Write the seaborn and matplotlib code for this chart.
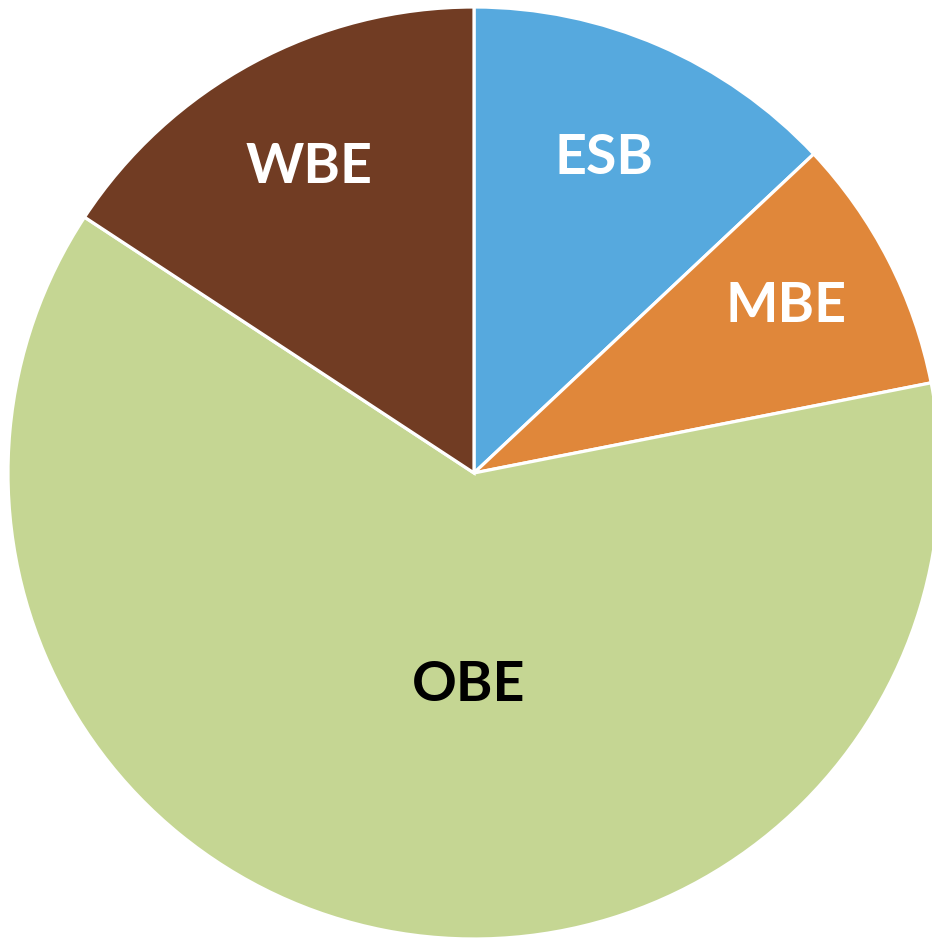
import matplotlib
matplotlib.use("Agg")
import matplotlib.pyplot as plt
import seaborn as sns
import numpy as np

categories = ["ESB", "MBE", "OBE", "WBE"]
values = [13.0, 8.9, 62.35, 15.75]
colors = ["#56A9DE", "#E0873A", "#C5D693", "#713C23"]
label_colors = ["white", "white", "black", "white"]

sns.set_theme(style="white")
plt.rcParams['font.family'] = ['Lato', 'DejaVu Sans']

W, H = 932, 942
fig = plt.figure(figsize=(W / 100, H / 100), dpi=100)
ax = fig.add_axes([0, 0, 1, 1])
ax.set_xlim(0, W)
ax.set_ylim(0, H)
ax.set_aspect('equal')
ax.axis('off')

cx, cy, R = 474, H - 473, 466
wedges, _ = ax.pie(values, colors=colors, startangle=90, counterclock=False,
                   center=(cx, cy), radius=R, frame=True,
                   wedgeprops=dict(edgecolor='white', linewidth=2.3))
ax.set_xlim(0, W)
ax.set_ylim(0, H)
ax.axis('off')

# label placement: radius fraction and angle offset (deg) per wedge
rfrac = [0.73, 0.76, 0.455, 0.745]
aoff = [1.0, 1.0, 9.5, 0.0]
for w, lab, lc, rf, ao in zip(wedges, categories, label_colors, rfrac, aoff):
    ang = np.deg2rad((w.theta1 + w.theta2) / 2 + ao)
    ax.text(cx + rf * R * np.cos(ang), cy + rf * R * np.sin(ang), lab,
            ha='center', va='center', color=lc, fontsize=40, fontweight='bold')

fig.savefig("out.png", dpi=100, facecolor='white')
